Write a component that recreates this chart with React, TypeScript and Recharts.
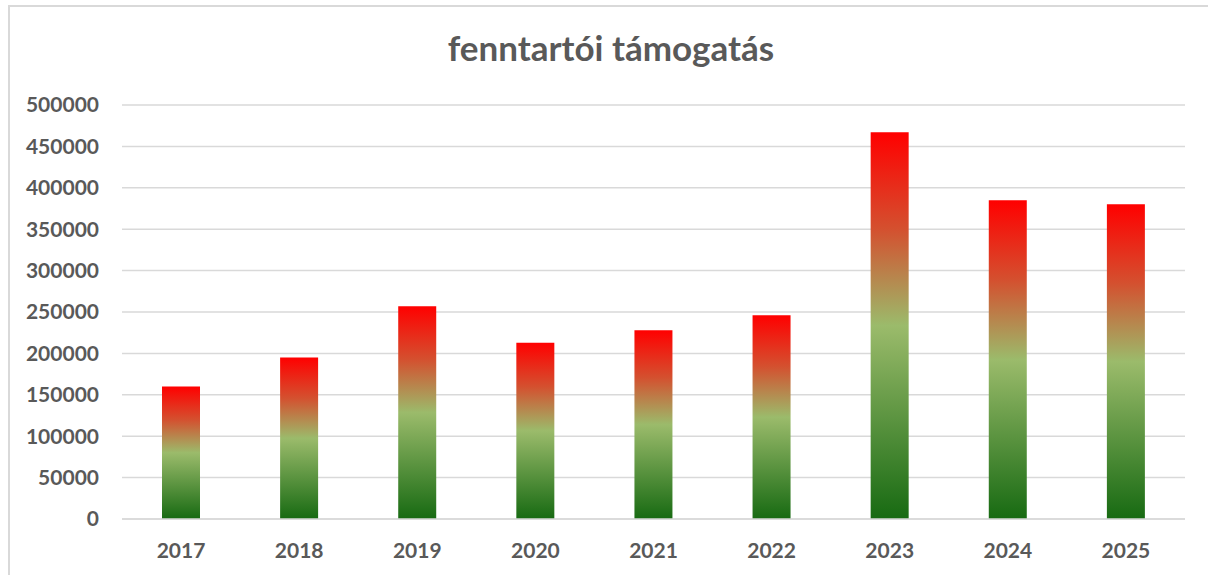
import { BarChart, Bar, XAxis, YAxis, CartesianGrid } from "recharts";

const years = ["2017", "2018", "2019", "2020", "2021", "2022", "2023", "2024", "2025"];
const support = [160000, 195000, 257000, 213000, 228000, 246000, 467000, 385000, 380000];
const yTicks = [0, 50000, 100000, 150000, 200000, 250000, 300000, 350000, 400000, 450000, 500000];

const data = years.map((year, i) => ({ year, value: support[i] }));

const TEXT = "#595959";
const GRID = "#d9d9d9";
const FONT = "Lato, 'Open Sans', sans-serif";

export default function App() {
  return (
    <div
      style={{
        position: "absolute",
        top: 0,
        left: 0,
        width: 1208,
        height: 575,
        background: "#fff",
        overflow: "hidden",
        fontFamily: FONT,
      }}
    >
      <div
        style={{
          position: "absolute",
          left: 8,
          top: 5,
          width: 1220,
          height: 600,
          border: `2px solid ${GRID}`,
          boxSizing: "border-box",
        }}
      />
      <div
        style={{
          position: "absolute",
          top: 26,
          left: 0,
          width: 1222,
          textAlign: "center",
          fontSize: 35,
          lineHeight: "42px",
          fontWeight: 700,
          color: TEXT,
        }}
      >
        fenntartói támogatás
      </div>
      <BarChart
        width={1208}
        height={575}
        data={data}
        margin={{ top: 105, right: 23, bottom: 26, left: 0 }}
        style={{ position: "absolute", top: 0, left: 0 }}
      >
        <defs>
          <linearGradient id="barFill" x1="0" y1="0" x2="0" y2="1">
            <stop offset="0%" stopColor="#ff0000" />
            <stop offset="25%" stopColor="#d4502f" />
            <stop offset="50%" stopColor="#9bbb6b" />
            <stop offset="100%" stopColor="#176a12" />
          </linearGradient>
        </defs>
        <CartesianGrid vertical={false} stroke={GRID} strokeWidth={1.5} />
        <XAxis
          dataKey="year"
          height={30}
          axisLine={{ stroke: GRID, strokeWidth: 1.5 }}
          tickLine={false}
          tickMargin={18}
          tick={{ fill: TEXT, fontSize: 21, fontWeight: 700, fontFamily: FONT }}
        />
        <YAxis
          width={122}
          domain={[0, 500000]}
          ticks={yTicks}
          axisLine={false}
          tickLine={false}
          tickMargin={17}
          interval={0}
          tick={{ fill: TEXT, fontSize: 21, fontWeight: 700, fontFamily: FONT }}
        />
        <Bar dataKey="value" fill="url(#barFill)" barSize={38} isAnimationActive={false} />
      </BarChart>
    </div>
  );
}
